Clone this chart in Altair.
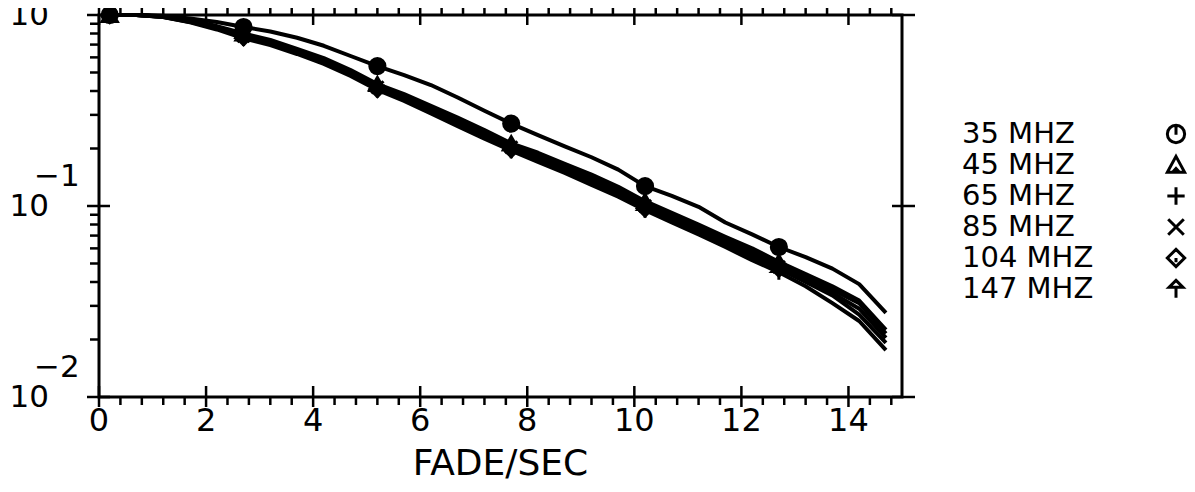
import altair as alt
import pandas as pd

# ---------------- data ----------------
x_sec = [0.2, 0.7, 1.2, 1.7, 2.2, 2.7, 3.2, 3.7, 4.2, 4.7, 5.2, 5.7, 6.2, 6.7, 7.2,
         7.7, 8.2, 8.7, 9.2, 9.7, 10.2, 10.7, 11.2, 11.7, 12.2, 12.7, 13.2, 13.7, 14.2, 14.7]

series_names = ["35 MHZ", "45 MHZ", "65 MHZ", "85 MHZ", "104 MHZ", "147 MHZ"]

s35 = [1.0, 1.0, 0.99, 0.96, 0.92, 0.865, 0.82, 0.76, 0.69, 0.61, 0.54, 0.485, 0.43, 0.37, 0.315,
       0.27, 0.235, 0.205, 0.18, 0.155, 0.127, 0.113, 0.099, 0.082, 0.071, 0.061, 0.054, 0.047, 0.039, 0.0276]
s45 = [1.0, 1.0, 0.985, 0.94, 0.875, 0.80, 0.74, 0.665, 0.595, 0.515, 0.435, 0.385, 0.335, 0.29, 0.25,
       0.213, 0.19, 0.166, 0.146, 0.126, 0.106, 0.092, 0.080, 0.069, 0.060, 0.051, 0.044, 0.038, 0.032, 0.0225]
s65 = [1.0, 1.0, 0.98, 0.93, 0.865, 0.785, 0.725, 0.655, 0.585, 0.505, 0.425, 0.375, 0.325, 0.284, 0.244,
       0.207, 0.184, 0.162, 0.141, 0.121, 0.102, 0.089, 0.077, 0.067, 0.058, 0.0495, 0.0425, 0.0365, 0.031, 0.0215]
s85 = [1.0, 1.0, 0.98, 0.925, 0.855, 0.775, 0.715, 0.645, 0.575, 0.495, 0.418, 0.368, 0.318, 0.276, 0.236,
       0.203, 0.178, 0.156, 0.136, 0.118, 0.100, 0.087, 0.075, 0.065, 0.056, 0.048, 0.041, 0.035, 0.029, 0.0204]
s104 = [1.0, 1.0, 0.975, 0.92, 0.85, 0.765, 0.705, 0.635, 0.565, 0.487, 0.41, 0.36, 0.31, 0.268, 0.23,
        0.198, 0.173, 0.152, 0.132, 0.115, 0.097, 0.084, 0.073, 0.063, 0.054, 0.047, 0.040, 0.034, 0.027, 0.0192]
s147 = [1.0, 1.0, 0.975, 0.915, 0.84, 0.755, 0.695, 0.625, 0.555, 0.48, 0.405, 0.355, 0.305, 0.262, 0.225,
        0.195, 0.17, 0.149, 0.129, 0.112, 0.095, 0.082, 0.071, 0.061, 0.052, 0.045, 0.038, 0.031, 0.025, 0.0176]

marker_x = [0.2, 2.7, 5.2, 7.7, 10.2, 12.7]

x_major = [0, 2, 4, 6, 8, 10, 12, 14]
x_minor = [0.4, 0.8, 1.2, 1.6, 2.4, 2.8, 3.2, 3.6, 4.4, 4.8, 5.2, 5.6, 6.4, 6.8, 7.2, 7.6,
           8.4, 8.8, 9.2, 9.6, 10.4, 10.8, 11.2, 11.6, 12.4, 12.8, 13.2, 13.6, 14.4, 14.8]
y_major = [1.0, 0.1, 0.01]
y_major_base = ["10", "10", "10"]
y_major_exp = ["", "\u22121", "\u22122"]
y_minor = [0.9, 0.8, 0.7, 0.6, 0.5, 0.4, 0.3, 0.2,
           0.09, 0.08, 0.07, 0.06, 0.05, 0.04, 0.03, 0.02]
x_title = "FADE/SEC"

# ---------------- styling ----------------
W, H = 803, 382
FONT = "DejaVu Sans"
INK = "black"

plot_shapes = [
    "circle",
    "triangle-up",
    "M-1,0H1M0,-1V1",
    "M-0.8,-0.8L0.8,0.8M-0.8,0.8L0.8,-0.8",
    "diamond",
    "M0,-1L0.9,-0.1H-0.9ZM0,-0.1V1",
]
legend_shapes = [
    "M-1,0A1,1,0,1,1,1,0A1,1,0,1,1,-1,0ZM0,-1V0.1",
    "M0,-1L1,0.85H-1ZM-0.4,0.85L0,0.4L0.4,0.85",
    "M-1,0H1M0,-1V1",
    "M-0.9,-0.9L0.9,0.9M-0.9,0.9L0.9,-0.9",
    "M0,-1L1,0L0,1L-1,0ZM0,0V0.5",
    "M0,-1L0.8,-0.2H-0.8ZM0,-0.2V1",
]

all_series = [s35, s45, s65, s85, s104, s147]
rows = []
for name, vals in zip(series_names, all_series):
    for xv, yv in zip(x_sec, vals):
        rows.append({"x": xv, "y": yv, "series": name, "mark": xv in marker_x})
df = pd.DataFrame(rows)

xscale = alt.Scale(domain=[0, 15], nice=False, zero=False)
yscale = alt.Scale(type="log", domain=[0.01, 1], nice=False)

X = alt.X("x:Q", scale=xscale, axis=None)
Y = alt.Y("y:Q", scale=yscale, axis=None)

lines = alt.Chart(df).mark_line(color=INK, strokeWidth=4, strokeJoin="round").encode(
    x=X, y=Y, detail="series:N", order="x:Q")

markers = alt.Chart(df).transform_filter("datum.mark").mark_point(
    filled=True, color=INK, stroke=INK, strokeWidth=3, opacity=1, size=230).encode(
    x=X, y=Y,
    shape=alt.Shape("series:N", scale=alt.Scale(domain=series_names, range=plot_shapes), legend=None))

# axis ticks
dfx_major = pd.DataFrame({"v": x_major, "lab": [str(v) for v in x_major]})
dfx_minor = pd.DataFrame({"v": x_minor})
dfy_major = pd.DataFrame({"v": y_major, "base": y_major_base, "exp": y_major_exp})
dfy_minor = pd.DataFrame({"v": y_minor})

XV = alt.X("v:Q", scale=xscale, axis=None)
YV = alt.Y("v:Q", scale=yscale, axis=None)

def rule(df_, **enc):
    return alt.Chart(df_).mark_rule(color=INK, strokeWidth=2.5).encode(**enc)

tick_layers = [
    rule(dfx_minor, x=XV, y=alt.value(H), y2=alt.value(H + 8)),
    rule(dfx_major, x=XV, y=alt.value(H - 11), y2=alt.value(H + 10)),
    rule(dfx_minor, x=XV, y=alt.value(-8), y2=alt.value(0)),
    rule(dfx_major, x=XV, y=alt.value(-10), y2=alt.value(10)),
    rule(dfy_minor, y=YV, x=alt.value(-9), x2=alt.value(0)),
    rule(dfy_major, y=YV, x=alt.value(-12), x2=alt.value(11)),
    rule(dfy_major, y=YV, x=alt.value(W - 10), x2=alt.value(W + 13)),
]

x_labels = alt.Chart(dfx_major).mark_text(
    font=FONT, fontSize=32, baseline="top", align="center", color=INK).encode(
    x=XV, y=alt.value(H + 9), text="lab:N")

title = alt.Chart(pd.DataFrame({"t": [x_title]})).mark_text(
    font=FONT, fontSize=36, baseline="alphabetic", align="center", color=INK).encode(
    x=alt.value(W / 2), y=alt.value(H + 78), text="t:N")

y_base = alt.Chart(dfy_major).mark_text(
    font=FONT, fontSize=31, baseline="middle", align="right", color=INK, dy=1).encode(
    y=YV, x=alt.value(-50), text="base:N")

y_exp = alt.Chart(dfy_major).mark_text(
    font=FONT, fontSize=31, baseline="middle", align="left", color=INK, dy=-29).encode(
    y=YV, x=alt.value(-65), text="exp:N")

main = alt.layer(lines, markers, *tick_layers, x_labels, title, y_base, y_exp)

# custom legend (labels left, symbols right)
dleg = pd.DataFrame({"row": list(range(len(series_names))), "name": series_names})
LY = alt.Y("row:Q", scale=alt.Scale(domain=[0, 5], range=[119, 274]), axis=None)
leg_text = alt.Chart(dleg).mark_text(
    font=FONT, fontSize=29, align="left", baseline="middle", color=INK).encode(
    y=LY, x=alt.value(863), text="name:N")
leg_sym = alt.Chart(dleg).mark_point(
    filled=False, color=INK, strokeWidth=3, opacity=1, size=300).encode(
    y=LY, x=alt.value(1077),
    shape=alt.Shape("name:N", scale=alt.Scale(domain=series_names, range=legend_shapes), legend=None))
legend = alt.layer(leg_text, leg_sym)

chart = alt.layer(main, legend).resolve_scale(y="independent", shape="independent").properties(
    width=W, height=H,
    autosize=alt.AutoSizeParams(type="none"),
    padding={"left": 91, "top": 7, "right": 285, "bottom": 86},
    background="white",
).configure_view(stroke=INK, strokeWidth=3)

chart.save("out.html", embed_options={"renderer": "svg", "actions": False})
